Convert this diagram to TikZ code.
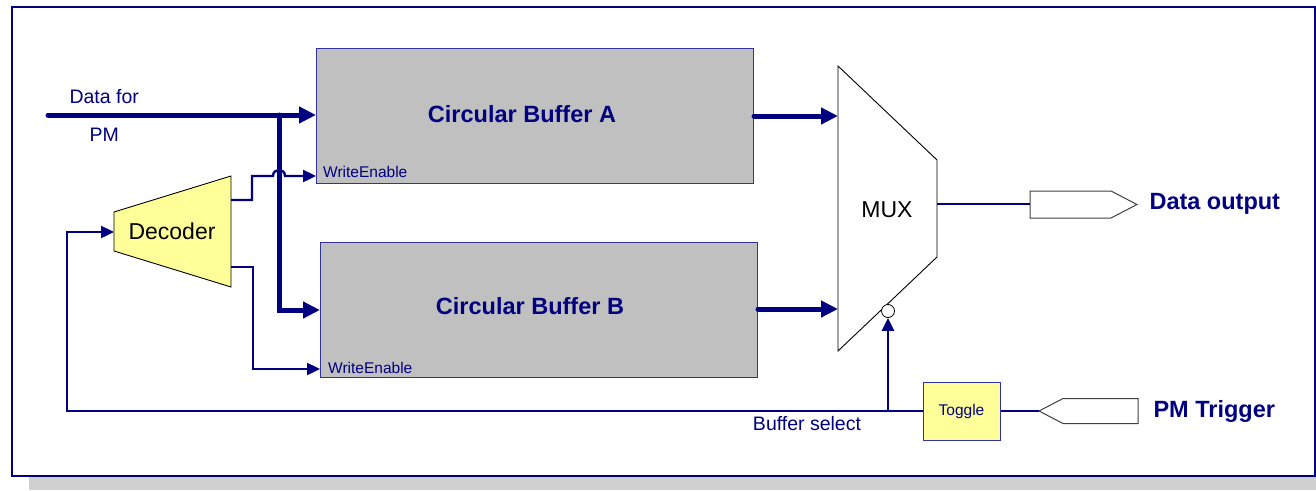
\documentclass[tikz,border=0pt]{standalone}
\usepackage{fontspec}
\setmainfont{Liberation Sans}
\usetikzlibrary{arrows.meta}
\definecolor{navy}{HTML}{000080}
\definecolor{bufgray}{HTML}{C0C0C0}
\definecolor{paleyellow}{HTML}{FFFF99}
\definecolor{shadowgray}{HTML}{D0D0D0}
\definecolor{boxedge}{HTML}{3333A0}
\definecolor{portedge}{HTML}{404040}

\tikzset{
  wire/.style={draw=navy, line width=2.4pt},
  bus/.style={draw=navy, line width=5pt, line cap=round},
  thinhead/.style={-{Triangle[length=13pt,width=12pt]}},
  bighead/.style={-{Triangle[length=17pt,width=16pt]}},
  buffer/.style={draw=boxedge, fill=bufgray, line width=1pt, anchor=north west, inner sep=0pt},
  title/.style={text=navy, font=\fontsize{23.5}{28}\selectfont\bfseries},
  navytext/.style={text=navy, font=\fontsize{19.5}{23}\selectfont},
  smalltext/.style={text=navy, font=\fontsize{15.5}{18}\selectfont, inner sep=0pt},
  blocktext/.style={text=black, font=\fontsize{23}{27}\selectfont},
  gate/.style={draw=black, line width=0.9pt},
  port/.style={draw=portedge, fill=white, line width=1pt},
}

\begin{document}
\begin{tikzpicture}[x=1pt,y=-1pt]
  \useasboundingbox (0,0) rectangle (1316,490);

  % frame and its drop shadow
  \fill[shadowgray] (29,477) rectangle (1316,490);
  \draw[navy, line width=1.5pt] (12,7) rectangle (1315,476);

  % circular buffers
  \node[buffer, minimum width=437, minimum height=135] (bufA) at (316,48) {};
  \node[buffer, minimum width=437, minimum height=135] (bufB) at (320,242) {};
  \node[title] (bufAt) at (522,114) {Circular Buffer A};
  \node[title] (bufBt) at (530,306) {Circular Buffer B};
  \node[smalltext, anchor=west] (weA) at (323,172) {WriteEnable};
  \node[smalltext, anchor=west] (weB) at (328,368) {WriteEnable};

  % decoder
  \draw[gate, fill=paleyellow] (114,212) -- (231,176) -- (231,287) -- (114,251) -- cycle;
  \node[blocktext] (dec) at (172,231) {Decoder};
  \coordinate (decIn) at (114,232);
  \coordinate (decOutA) at (231,200);
  \coordinate (decOutB) at (231,267);

  % multiplexer
  \draw[gate, fill=white] (838,66) -- (937,160) -- (937,257) -- (838,351) -- cycle;
  \node[blocktext] (mux) at (887,210) {MUX};
  \coordinate (muxA) at (838,116);
  \coordinate (muxB) at (838,309);
  \coordinate (muxOut) at (937,204);
  \node[circle, draw=black, fill=white, line width=0.8pt, minimum size=13, inner sep=0pt] (bub) at (888,311) {};

  % output and trigger ports
  \draw[port] (1030,191) -- (1111,191) -- (1137,204.5) -- (1111,218) -- (1030,218) -- cycle;
  \coordinate (doutIn) at (1030,204);
  \node[title, anchor=west] (dout) at (1146,204) {Data output};

  \draw[port] (1039,411) -- (1063,398.5) -- (1138,398.5) -- (1138,423.5) -- (1063,423.5) -- cycle;
  \coordinate (trigTip) at (1039,411);
  \node[title, anchor=west] (trig) at (1150,411) {PM Trigger};

  % toggle
  \node[draw=boxedge, fill=paleyellow, line width=1pt, minimum width=77, minimum height=58,
        inner sep=0pt, text=navy, font=\fontsize{15.5}{18}\selectfont] (tog) at (961.5,411) {Toggle};

  % data input bus
  \coordinate (din) at (48,115);
  \coordinate (split) at (279,115);
  \node[navytext, anchor=west] (dfor) at (66,97) {Data for};
  \node[navytext, anchor=west] (dpm) at (86,135) {PM};
  \draw[bus, bighead] (din) -- (bufA.west |- din);
  \draw[bus, bighead] (split) -- (279,310) -- (bufB.west |- 0,310);

  % write enables from the decoder (with a hop over the bus)
  \draw[wire, thinhead] (decOutA) -- (252,200) -- (252,176) -- (273,176)
      .. controls (273,168) and (285,168) .. (285,176) -- (bufA.west |- 0,176);
  \draw[wire, thinhead] (decOutB) -- (253,267) -- (253,369) -- (bufB.west |- 0,369);

  % buffers into the multiplexer
  \draw[bus, bighead] (bufA.east |- muxA) -- (muxA);
  \draw[bus, bighead] (bufB.east |- muxB) -- (muxB);

  % multiplexer output
  \draw[wire] (muxOut) -- (doutIn);

  % trigger into toggle
  \draw[wire] (trigTip) -- (tog.east);

  % buffer select loop
  \coordinate (selL) at (67,411);
  \coordinate (tap) at (888,411);
  \draw[wire, thinhead] (tog.west) -- (selL) |- (decIn);
  \draw[wire, thinhead] (tap) -- (bub.south);
  \node[navytext] (bsel) at (807,424) {Buffer select};
\end{tikzpicture}
\end{document}
